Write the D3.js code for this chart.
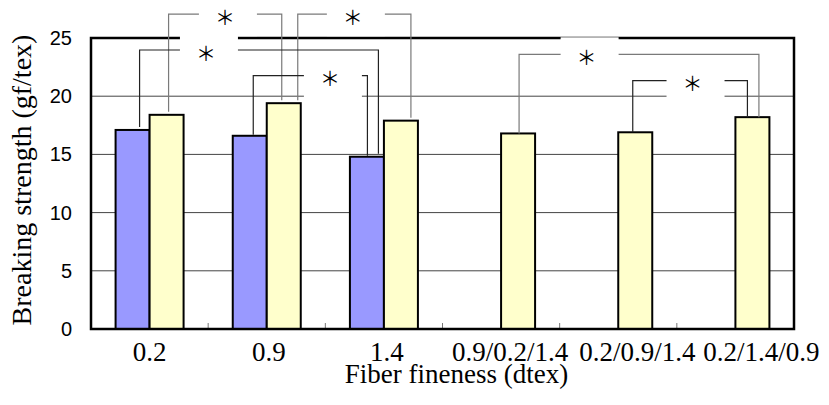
<!DOCTYPE html>
<html>
<head>
<meta charset="utf-8">
<script src="https://cdn.jsdelivr.net/npm/d3@7"></script>
<style>
  body { margin: 0; background: #fff; }
  svg { display: block; }
</style>
</head>
<body>
<svg></svg>
<script>
const categories = ["0.2", "0.9", "1.4", "0.9/0.2/1.4", "0.2/0.9/1.4", "0.2/1.4/0.9"];
const blueValues = [17.1, 16.6, 14.8, null, null, null];
const yellowValues = [18.4, 19.4, 17.9, 16.8, 16.9, 18.2];
const yTicks = [0, 5, 10, 15, 20, 25];

// significance brackets: [category, series] pairs (series 0 = blue, 1 = yellow),
// bracket level in data units, and where the asterisk sits (category index, fractional)
const bracketFrom = [[0, 1], [1, 1], [0, 0], [1, 0], [3, 1], [4, 1]];
const bracketTo = [[1, 1], [2, 1], [2, 0], [2, 0], [5, 1], [5, 1]];
const bracketLevel = [27.05, 27.05, 23.97, 21.76, 23.6, 21.33];
const bracketLabelAt = [0.643, 1.735, 0.481, 1.539, 3.73, 4.634];

// small nudges so legs and labels sit where the original has them
const legNudge = [[2, -2], [14, 10], [7, 11.5], [3.5, 0.5], [1, 6.5], [-2.5, -5]];
const legGap = [3, 3, 3, 1, 0, 0];
const bracketColor = ["#7a7a7a", "#7a7a7a", "#222", "#222", "#7a7a7a", "#222"];
const labelShift = [0, 2, 3, 9, 19, 26];

const width = 829;
const height = 405;
const margin = { top: 38, right: 35, bottom: 76, left: 91 };
const chartWidth = width - margin.left - margin.right;
const chartHeight = height - margin.top - margin.bottom;

const serif = "'Liberation Serif', 'Times New Roman', serif";

const svg = d3.select("svg")
    .attr("width", width)
    .attr("height", height);

const g = svg.append("g")
    .attr("transform", `translate(${margin.left},${margin.top})`);

const x = d3.scaleBand()
    .domain(categories)
    .range([0, chartWidth]);

const barWidth = 34;

const y = d3.scaleLinear()
    .domain([0, 25])
    .range([chartHeight, 0]);

// category index (continuous) -> x of band centre
const xi = d3.scaleLinear()
    .domain([0, 1])
    .range([x.bandwidth() / 2, x.bandwidth() * 1.5]);

// gridlines
g.append("g")
    .selectAll("line")
    .data(yTicks.slice(1, -1))
    .enter().append("line")
    .attr("x1", 0)
    .attr("x2", chartWidth)
    .attr("y1", d => y(d))
    .attr("y2", d => y(d))
    .attr("stroke", "#444")
    .attr("stroke-width", 1);

// small category ticks inside the plot
g.append("g")
    .selectAll("line")
    .data(categories.slice(1))
    .enter().append("line")
    .attr("x1", d => x(d))
    .attr("x2", d => x(d))
    .attr("y1", chartHeight)
    .attr("y2", chartHeight - 6)
    .attr("stroke", "#777")
    .attr("stroke-width", 1);

// bars
const blueData = blueValues.map((v, i) => ({ cat: categories[i], value: v })).filter(d => d.value != null);
const yellowData = yellowValues.map((v, i) => ({ cat: categories[i], value: v }));

g.selectAll("rect.blue")
    .data(blueData)
    .enter().append("rect")
    .attr("class", "blue")
    .attr("x", d => x(d.cat) + x.bandwidth() / 2 - barWidth)
    .attr("y", d => y(d.value))
    .attr("width", barWidth)
    .attr("height", d => chartHeight - y(d.value))
    .attr("fill", "#9999ff")
    .attr("stroke", "#000")
    .attr("stroke-width", 2);

g.selectAll("rect.yellow")
    .data(yellowData)
    .enter().append("rect")
    .attr("class", "yellow")
    .attr("x", d => x(d.cat) + x.bandwidth() / 2)
    .attr("y", d => y(d.value))
    .attr("width", barWidth)
    .attr("height", d => chartHeight - y(d.value))
    .attr("fill", "#ffffcc")
    .attr("stroke", "#000")
    .attr("stroke-width", 2);

// frame
g.append("rect")
    .attr("x", 0)
    .attr("y", 0)
    .attr("width", chartWidth)
    .attr("height", chartHeight)
    .attr("fill", "none")
    .attr("stroke", "#000")
    .attr("stroke-width", 2.5);

// y axis labels
const yAxis = g.append("g")
    .call(d3.axisLeft(y).tickValues(yTicks).tickSize(0).tickPadding(19));
yAxis.select(".domain").remove();
yAxis.selectAll("text")
    .style("font-family", "'Liberation Sans', Arial, sans-serif")
    .style("font-size", "20px")
    .attr("fill", "#000");

// x axis labels
const xAxis = g.append("g")
    .attr("transform", `translate(0,${chartHeight})`)
    .call(d3.axisBottom(x).tickSize(0).tickPadding(13));
xAxis.select(".domain").remove();
xAxis.selectAll("text")
    .attr("dx", (d, i) => labelShift[i])
    .style("font-family", serif)
    .style("font-size", "27px")
    .attr("fill", "#000");

// axis titles
svg.append("text")
    .attr("x", margin.left + chartWidth / 2 + 14)
    .attr("y", 383)
    .attr("text-anchor", "middle")
    .style("font-family", serif)
    .style("font-size", "27px")
    .text("Fiber fineness (dtex)");

svg.append("text")
    .attr("transform", "translate(31,180) rotate(-90)")
    .attr("text-anchor", "middle")
    .style("font-family", serif)
    .style("font-size", "28px")
    .text("Breaking strength (gf/tex)");

// significance brackets
function barCenter(ref) {
    const [ci, s] = ref;
    const c = x(categories[ci]) + x.bandwidth() / 2;
    return s === 0 ? c - barWidth / 2 : c + barWidth / 2;
}
function barValue(ref) {
    const [ci, s] = ref;
    return s === 0 ? blueValues[ci] : yellowValues[ci];
}

const brackets = bracketFrom.map((f, i) => ({
    x1: barCenter(f) + legNudge[i][0],
    x2: barCenter(bracketTo[i]) + legNudge[i][1],
    yTop: y(bracketLevel[i]),
    y1: y(barValue(f)) - legGap[i],
    y2: y(barValue(bracketTo[i])) - legGap[i],
    lx: xi(bracketLabelAt[i]),
    color: bracketColor[i]
}));

const bg = g.append("g");
bg.selectAll("path")
    .data(brackets)
    .enter().append("path")
    .attr("d", d => `M${d.x1},${d.y1}V${d.yTop}H${d.x2}V${d.y2}`)
    .attr("fill", "none")
    .attr("stroke", d => d.color)
    .attr("stroke-width", 1.2);

// white label boxes that break the lines behind the asterisks
bg.selectAll("rect")
    .data(brackets)
    .enter().append("rect")
    .attr("x", d => d.lx + 3 - 29)
    .attr("y", d => d.yTop - 17)
    .attr("width", 58)
    .attr("height", 39)
    .attr("fill", "#fff");

bg.selectAll("text")
    .data(brackets)
    .enter().append("text")
    .attr("x", d => d.lx)
    .attr("y", d => d.yTop + 2)
    .attr("text-anchor", "middle")
    .attr("dominant-baseline", "central")
    .style("font-family", "'Noto Sans CJK JP', sans-serif")
    .style("font-size", "20px")
    .attr("fill", "#000")
    .text("＊");
</script>
</body>
</html>
